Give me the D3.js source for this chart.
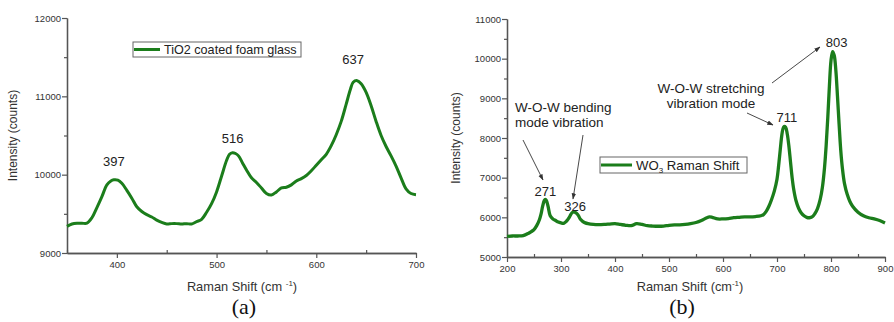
<!DOCTYPE html>
<html><head><meta charset="utf-8">
<script src="https://cdn.jsdelivr.net/npm/d3@7"></script>
<style>body{margin:0;background:#fff}svg{display:block}</style>
</head><body>
<svg id="c" width="894" height="322"></svg>
<script>
// ---- Data: (a) TiO2 coated foam glass ----
const tioShift = [350,355,360,365,370,375,380,385,390,394,397,401,405,410,415,420,425,430,435,440,445,450,455,460,465,470,475,480,485,490,495,500,505,510,513,516,519,522,526,530,535,540,545,550,555,560,565,570,575,580,585,590,595,600,605,610,615,620,625,630,634,637,641,645,650,655,660,665,670,675,680,685,690,695,700];
const tioInt   = [9340,9370,9380,9380,9380,9450,9580,9720,9870,9920,9935,9930,9890,9800,9700,9590,9530,9490,9460,9420,9390,9370,9375,9375,9370,9375,9370,9400,9430,9520,9630,9780,9980,10180,10260,10280,10270,10240,10150,10060,9960,9900,9830,9760,9740,9780,9830,9840,9870,9920,9950,9990,10050,10120,10190,10260,10370,10510,10680,10900,11080,11180,11200,11160,11050,10880,10680,10500,10360,10240,10110,9960,9820,9760,9745];
const tioPeaks = [397,516,637];
// ---- Data: (b) WO3 ----
const woShift = [200,210,220,230,240,245,250,255,260,263,266,269,271,273,276,280,285,290,295,300,305,310,315,318,321,324,326,329,332,336,340,345,350,360,370,380,390,400,410,420,430,440,450,460,470,480,490,500,510,520,530,540,550,560,570,575,580,590,600,610,620,630,640,650,660,670,675,680,685,690,695,700,703,706,709,711,713,716,719,722,725,728,731,735,740,745,750,755,760,765,770,775,780,784,788,791,794,797,800,803,806,809,812,815,818,821,825,830,835,840,850,860,870,880,890,900];
const woInt   = [5520,5530,5530,5540,5600,5640,5690,5790,5940,6080,6280,6420,6450,6420,6280,6040,5960,5920,5880,5860,5850,5900,5990,6070,6120,6140,6130,6100,6050,5950,5900,5860,5840,5820,5815,5820,5830,5840,5820,5800,5790,5840,5820,5790,5780,5775,5780,5800,5810,5810,5820,5840,5870,5920,5990,6010,6000,5960,5960,5970,5990,6000,6010,6010,6020,6040,6070,6150,6280,6450,6660,6960,7300,7700,8080,8230,8290,8270,8100,7800,7400,7000,6700,6430,6230,6110,6040,6000,5990,6010,6090,6220,6450,6750,7250,7800,8500,9300,9950,10180,10080,9700,9050,8350,7700,7250,6850,6580,6400,6280,6130,6040,5990,5960,5920,5860];
const woPeaks = [271,326,711,803];

// ---- Axis ticks ----
const aXTicks = [400,500,600,700], aXMinor = [350,450,550,650];
const aYTicks = [9000,10000,11000,12000], aYMinor = [9500,10500,11500];
const bXTicks = [200,300,400,500,600,700,800,900], bXMinor = [250,350,450,550,650,750,850];
const bYTicks = [5000,6000,7000,8000,9000,10000,11000], bYMinor = [5500,6500,7500,8500,9500,10500];

const svg = d3.select("#c");
const GREEN = "#1b7d1b";
const FONT = "Liberation Sans, Arial, sans-serif";

svg.append("defs").append("marker").attr("id","arr").attr("viewBox","0 0 10 10")
  .attr("refX",9).attr("refY",5).attr("markerWidth",7).attr("markerHeight",7).attr("orient","auto-start-reverse")
  .append("path").attr("d","M0,1.5 L10,5 L0,8.5 Z").attr("fill","#333");

function panel(o){
  const g = svg.append("g");
  const x = d3.scaleLinear().domain(o.xd).range(o.xr);
  const y = d3.scaleLinear().domain(o.yd).range(o.yr);
  g.append("g").attr("transform",`translate(0,${o.yr[0]})`)
    .call(d3.axisBottom(x).tickValues(o.xt).tickSize(5).tickSizeOuter(0).tickFormat(d3.format("d")));
  g.append("g").attr("transform",`translate(0,${o.yr[0]})`)
    .call(d3.axisBottom(x).tickValues(o.xm).tickSize(-3).tickSizeOuter(0).tickFormat(""));
  const ay = g.append("g").attr("transform",`translate(${o.xr[0]},0)`)
    .call(d3.axisLeft(y).tickValues(o.yt).tickSize(5).tickSizeOuter(0).tickFormat(d3.format("d")));
  g.append("g").attr("transform",`translate(${o.xr[0]},0)`)
    .call(d3.axisLeft(y).tickValues(o.ym).tickSize(3).tickSizeOuter(0).tickFormat(""));
  g.selectAll(".domain").attr("stroke","#555").attr("stroke-width",1.3);
  g.selectAll(".tick line").attr("stroke","#555").attr("stroke-width",1.2);
  g.selectAll(".tick text").attr("font-family",FONT).attr("font-size",9.5).attr("fill","#333");
  ay.selectAll(".tick text").attr("x",-6);
  // curve
  const pts = o.xs.map((v,i)=>[v,o.ys[i]]);
  g.append("path").datum(pts)
    .attr("d", d3.line().x(d=>x(d[0])).y(d=>y(d[1])).curve(d3.curveCatmullRom.alpha(0.5)))
    .attr("fill","none").attr("stroke",GREEN).attr("stroke-width",o.sw).attr("stroke-linejoin","round");
  // titles
  g.append("text").attr("transform",`translate(${o.ytx},${(o.yr[0]+o.yr[1])/2}) rotate(-90)`)
    .attr("text-anchor","middle").attr("font-family",FONT).attr("font-size",12).attr("fill","#333").text("Intensity (counts)");
  const xt = g.append("text").attr("x",o.xtx).attr("y",291).attr("text-anchor","middle")
    .attr("font-family",FONT).attr("font-size",12.8).attr("fill","#333");
  xt.append("tspan").text(o.cmSpace ? "Raman Shift (cm " : "Raman Shift (cm");
  xt.append("tspan").attr("font-size",8).attr("dy",-5).text("-1");
  xt.append("tspan").attr("dy",5).text(")");
  g.append("text").attr("x",o.capX).attr("y",314).attr("text-anchor","middle")
    .attr("font-family","Liberation Serif, Times New Roman, serif").attr("font-size",22).attr("fill","#111").text(o.cap);
  // legend
  g.append("rect").attr("x",o.lg[0]).attr("y",o.lg[1]).attr("width",o.lg[2]).attr("height",o.lg[3])
    .attr("fill","#fff").attr("stroke","#666").attr("stroke-width",1);
  g.append("line").attr("x1",o.lg[0]+1).attr("x2",o.lg[0]+o.ll).attr("y1",o.lg[1]+o.lg[3]/2).attr("y2",o.lg[1]+o.lg[3]/2)
    .attr("stroke",GREEN).attr("stroke-width",3);
  const lt = g.append("text").attr("x",o.lg[0]+o.ll+4).attr("y",o.lg[1]+o.lg[3]/2+4.5)
    .attr("font-family",FONT).attr("font-size",o.lfs).attr("fill","#222");
  o.legend(lt);
  return {g,x,y};
}

// Panel (a)
const A = panel({xd:[350,700], xr:[67,416], yd:[9000,12000], yr:[253,18],
  xt:aXTicks, xm:aXMinor, yt:aYTicks, ym:aYMinor, xs:tioShift, ys:tioInt, sw:3,
  ytx:17, xtx:242, cmSpace:true, cap:"(a)", capX:244, lg:[133,42,168,15], ll:27, lfs:12.6,
  legend:t=>t.text("TiO2 coated foam glass")});
const aOff = {397:[0,-14],516:[0,-10],637:[0,-18]};
tioPeaks.forEach(p=>{
  const i = tioShift.indexOf(p);
  A.g.append("text").attr("x",A.x(p)+aOff[p][0]).attr("y",A.y(tioInt[i])+aOff[p][1])
    .attr("text-anchor","middle").attr("font-family",FONT).attr("font-size",13).attr("fill","#222").text(p);
});

// Panel (b)
const B = panel({xd:[200,900], xr:[507,885], yd:[5000,11000], yr:[257,19],
  xt:bXTicks, xm:bXMinor, yt:bYTicks, ym:bYMinor, xs:woShift, ys:woInt, sw:3.3,
  ytx:460, xtx:690, cmSpace:false, cap:"(b)", capX:682, lg:[600,157,147,16], ll:32, lfs:13.2,
  legend:t=>{t.append("tspan").text("WO");t.append("tspan").attr("font-size",8).attr("dy",3).text("3");
             t.append("tspan").attr("dy",-3).text(" Raman Shift");}});
const bOff = {271:[0,-3],326:[0,-1],711:[4,-7],803:[4,-5]};
woPeaks.forEach(p=>{
  const i = woShift.indexOf(p);
  B.g.append("text").attr("x",B.x(p)+bOff[p][0]).attr("y",B.y(woInt[i])+bOff[p][1])
    .attr("text-anchor","middle").attr("font-family",FONT).attr("font-size",13).attr("fill","#222").text(p);
});
function note(x,y,lines,anchor){
  lines.forEach((l,i)=>B.g.append("text").attr("x",x).attr("y",y+i*14.5).attr("text-anchor",anchor)
    .attr("font-family",FONT).attr("font-size",13.5).attr("fill","#222").text(l));
}
note(515,112,["W-O-W bending","mode vibration"],"start");
note(711,93,["W-O-W stretching","vibration mode"],"middle");
function arrow(x1,y1,x2,y2){
  B.g.append("line").attr("x1",x1).attr("y1",y1).attr("x2",x2).attr("y2",y2)
    .attr("stroke","#333").attr("stroke-width",0.9).attr("marker-end","url(#arr)");
}
arrow(523,140,543,180);
arrow(583,135,573,199);
arrow(772,83,820,47);
arrow(747,113,773,125);
</script>
</body></html>
